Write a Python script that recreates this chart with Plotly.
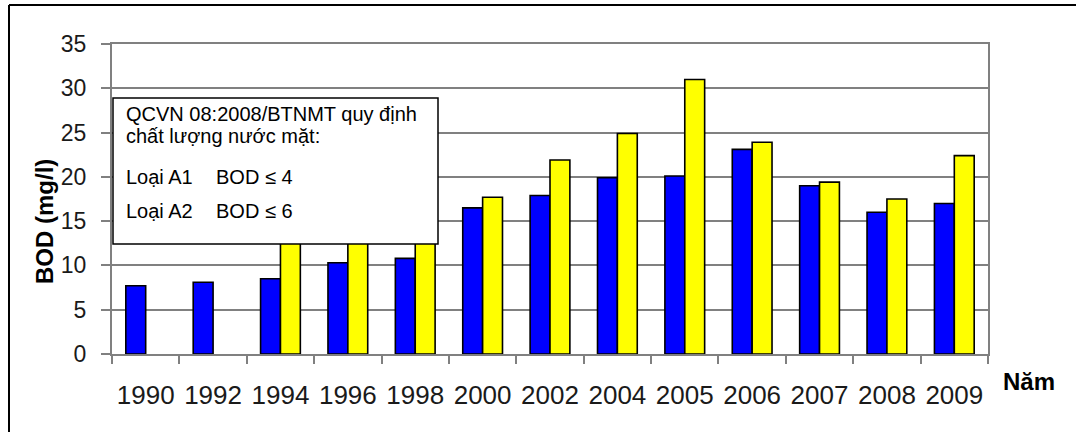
import plotly.graph_objects as go

# BOD data by year (mg/l)
years = ["1990", "1992", "1994", "1996", "1998", "2000", "2002", "2004",
         "2005", "2006", "2007", "2008", "2009"]
bod_blue = [7.7, 8.1, 8.5, 10.3, 10.8, 16.5, 17.9, 19.9, 20.1, 23.1, 19.0, 16.0, 17.0]
bod_yellow = [None, None, 13.5, 14.5, 15.5, 17.7, 21.9, 24.9, 31.0, 23.9, 19.4, 17.5, 22.4]
y_ticks = [0, 5, 10, 15, 20, 25, 30, 35]

FONT = "Liberation Sans, Arial, sans-serif"
W, H = 1076, 432
ML, MR, MT, MB = 112, 88, 44, 78
PW, PH = W - ML - MR, H - MT - MB


def px(x):
    return (x - ML) / PW


def py(y):
    return (H - MB - y) / PH


fig = go.Figure()
fig.add_trace(go.Bar(x=years, y=bod_blue, marker=dict(color="#0000FF", line=dict(color="#000000", width=1.6)),
                     showlegend=False, hoverinfo="x+y"))
fig.add_trace(go.Bar(x=years, y=bod_yellow, marker=dict(color="#FFFF00", line=dict(color="#000000", width=1.6)),
                     showlegend=False, hoverinfo="x+y"))

shapes = [
    # outer frame (top and left edges)
    dict(type="line", xref="paper", yref="paper", x0=px(9), x1=px(1090), y0=py(5), y1=py(5),
         line=dict(color="#000000", width=2)),
    dict(type="line", xref="paper", yref="paper", x0=px(9), x1=px(9), y0=py(5), y1=py(445),
         line=dict(color="#000000", width=2)),
    # regulation note box
    dict(type="rect", xref="paper", yref="paper", x0=px(113), x1=px(438), y0=py(98), y1=py(244),
         fillcolor="#FFFFFF", line=dict(color="#000000", width=1.5), layer="above"),
]

note_font = dict(family=FONT, size=20, color="#000000")
annotations = [
    dict(text="QCVN 08:2008/BTNMT quy định", x=px(124), y=py(114)),
    dict(text="chất lượng nước mặt:", x=px(124), y=py(136)),
    dict(text="Loại A1", x=px(124), y=py(177)),
    dict(text="BOD ≤ 4", x=px(214), y=py(177)),
    dict(text="Loại A2", x=px(124), y=py(211)),
    dict(text="BOD ≤ 6", x=px(214), y=py(211)),
]
for a in annotations:
    a.update(xref="paper", yref="paper", xanchor="left", yanchor="middle", showarrow=False, font=note_font)

annotations.append(dict(text="<b>BOD (mg/l)</b>", textangle=-90, xref="paper", yref="paper",
                        x=px(44), y=py(222), xanchor="center", yanchor="middle", showarrow=False,
                        font=dict(family=FONT, size=24, color="#000000")))
annotations.append(dict(text="<b>Năm</b>", xref="paper", yref="paper",
                        x=px(1029), y=py(381), xanchor="center", yanchor="middle", showarrow=False,
                        font=dict(family=FONT, size=24, color="#000000")))

fig.update_layout(
    width=W, height=H,
    margin=dict(l=ML, r=MR, t=MT, b=MB, pad=0),
    paper_bgcolor="#FFFFFF", plot_bgcolor="#FFFFFF",
    barmode="group", bargap=0.41, bargroupgap=0,
    shapes=shapes, annotations=annotations,
    xaxis=dict(type="category", tickson="boundaries", ticks="outside", ticklen=8, tickwidth=1.5,
               tickcolor="#808080", showline=True, linecolor="#808080", linewidth=2, mirror=True,
               showgrid=False, ticklabelstandoff=17, tickangle=0, automargin=False,
               tickfont=dict(family=FONT, size=26, color="#1a1a1a")),
    yaxis=dict(range=[0, 35], tickvals=y_ticks, ticks="outside", ticklen=9, tickwidth=1.5,
               tickcolor="#808080", showline=True, linecolor="#808080", linewidth=2, mirror=True,
               showgrid=True, gridcolor="#808080", gridwidth=2, zeroline=False,
               ticklabelstandoff=10, automargin=False,
               tickfont=dict(family=FONT, size=23, color="#1a1a1a")),
)

fig.write_html("out.html")
